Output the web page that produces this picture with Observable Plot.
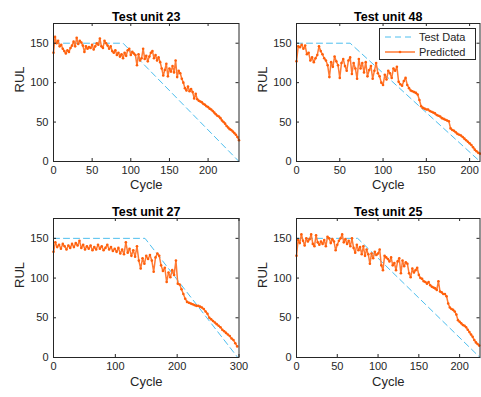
<!DOCTYPE html>
<html><head><meta charset="utf-8">
<script src="https://cdn.jsdelivr.net/npm/d3@7"></script>
<script src="https://cdn.jsdelivr.net/npm/@observablehq/plot@0.6"></script>
<style>
body{margin:0;background:#fff;}
#chart{position:relative;width:481px;height:397px;font-family:"Liberation Sans",Arial,Helvetica,sans-serif;background:#fff;overflow:hidden;}
.panel{position:absolute;}
#legend{position:absolute;left:379px;top:28px;width:95px;height:30px;border:1px solid #262626;background:#fff;font-size:11px;color:#262626;}
#legend .row{position:absolute;left:0;height:14px;width:95px;}
#legend svg{position:absolute;left:4px;top:0;}
#legend span{position:absolute;left:39px;top:0;line-height:14px;white-space:nowrap;}
</style></head>
<body><div id="chart"><div id="legend"></div></div>
<script>
// ---- Data ----
const yTicks = [0, 50, 100, 150];
const legendLabels = ["Test Data", "Predicted"];

// Unit 23
const unit23Title = "Test unit 23";
const unit23Len = 240;
const unit23XTicks = [0, 50, 100, 150, 200];
const unit23Cycles = [0,2,4,6,8,10,12,14,16,18,20,22,24,26,28,30,32,34,36,38,40,42,44,46,48,50,52,54,56,58,60,62,64,66,68,70,72,74,76,78,80,82,84,86,88,90,92,94,96,98,100,102,104,106,108,110,112,114,116,118,120,122,124,126,128,130,132,134,136,138,140,142,144,146,148,150,152,154,156,158,160,162,164,166,168,170,172,174,176,178,180,182,184,186,188,190,192,194,196,198,200,202,204,206,208,210,212,214,216,218,220,222,224,226,228,230,232,234,236,238,240];
const unit23Pred = [138,158,150,153,146,148,143,140,137,141,139,144,147,152,146,157,149,153,151,147,139,146,143,145,144,148,142,146,150,148,156,146,144,153,150,147,143,146,140,138,141,135,138,133,136,131,138,134,141,143,135,139,137,135,122,136,128,131,143,130,134,127,133,138,140,131,135,128,132,126,118,109,116,124,108,118,114,121,113,128,107,115,112,105,100,93,90,95,89,92,88,80,86,79,77,76,75,73,72,70,69,67,66,64,62,60,58,57,55,52,50,48,45,43,41,40,38,36,34,31,27];

// Unit 48
const unit48Title = "Test unit 48";
const unit48Len = 212;
const unit48XTicks = [0, 50, 100, 150, 200];
const unit48Cycles = [0,2,4,6,8,10,12,14,16,18,20,22,24,26,28,30,32,34,36,38,40,42,44,46,48,50,52,54,56,58,60,62,64,66,68,70,72,74,76,78,80,82,84,86,88,90,92,94,96,98,100,102,104,106,108,110,112,114,116,118,120,122,124,126,128,130,132,134,136,138,140,142,144,146,148,150,152,154,156,158,160,162,164,166,168,170,172,174,176,178,180,182,184,186,188,190,192,194,196,198,200,202,204,206,208,210,212];
const unit48Pred = [127,146,145,148,143,147,136,138,128,132,126,131,135,146,140,136,131,128,122,107,126,120,133,127,122,106,125,130,121,115,128,132,111,125,118,105,130,118,125,113,126,108,116,121,105,115,125,112,108,100,97,110,104,115,112,106,118,115,120,101,98,96,102,106,97,93,90,89,88,87,85,78,70,68,67,66,66,64,63,62,61,59,58,57,55,54,53,52,51,42,40,39,37,35,34,33,31,29,27,25,23,21,18,15,13,11,10];

// Unit 27
const unit27Title = "Test unit 27";
const unit27Len = 298;
const unit27XMax = 300;
const unit27XTicks = [0, 100, 200, 300];
const unit27Cycles = [0,3,6,9,12,15,18,21,24,27,30,33,36,39,42,45,48,51,54,57,60,63,66,69,72,75,78,81,84,87,90,93,96,99,102,105,108,111,114,117,120,123,126,129,132,135,138,141,144,147,150,153,156,159,162,165,168,171,174,177,180,183,186,189,192,195,198,201,204,207,210,213,216,219,222,225,228,231,234,237,240,243,246,249,252,255,258,261,264,267,270,273,276,279,282,285,288,291,294,297];
const unit27Pred = [133,145,139,142,137,143,140,136,141,138,143,139,144,141,147,138,142,136,140,137,141,135,139,136,142,137,140,135,138,142,136,139,134,137,133,138,131,136,130,145,132,137,128,135,127,140,122,112,125,118,128,124,129,122,108,126,131,128,116,109,113,95,107,101,110,104,122,93,92,86,80,74,70,69,68,67,66,65,65,64,63,61,58,55,50,48,46,44,42,40,38,35,33,31,29,27,24,22,18,14];

// Unit 25
const unit25Title = "Test unit 25";
const unit25Len = 225;
const unit25XTicks = [0, 50, 100, 150, 200];
const unit25Cycles = [0,2,4,6,8,10,12,14,16,18,20,22,24,26,28,30,32,34,36,38,40,42,44,46,48,50,52,54,56,58,60,62,64,66,68,70,72,74,76,78,80,82,84,86,88,90,92,94,96,98,100,102,104,106,108,110,112,114,116,118,120,122,124,126,128,130,132,134,136,138,140,142,144,146,148,150,152,154,156,158,160,162,164,166,168,170,172,174,176,178,180,182,184,186,188,190,192,194,196,198,200,202,204,206,208,210,212,214,216,218,220,222,224];
const unit25Pred = [128,148,144,155,147,141,150,146,149,155,143,140,154,145,142,146,143,148,140,152,150,144,149,146,135,142,147,150,155,145,149,143,147,140,150,138,132,142,135,139,130,140,128,136,130,118,131,125,133,129,131,136,116,110,128,126,124,121,126,116,119,110,121,125,106,122,115,120,118,106,101,112,107,110,113,104,100,99,96,95,93,95,91,89,88,87,85,96,83,82,80,80,77,68,63,61,60,58,54,47,45,43,41,40,38,35,32,29,26,22,19,17,15];

// ---- Styles ----
const testColor = "#4DBEEE";
const predLine = "#FF7A33";
const predDot = "#FF5F0A";
const axisColor = "#262626";
const font = '"Liberation Sans", Arial, Helvetica, sans-serif';

function panel(o) {
  const yMax = 175;
  const test = [{c: 0, r: 150}, {c: o.len - 150, r: 150}, {c: o.len, r: 0}];
  const pts = o.cycles.map((c, i) => ({c, r: o.pred[i]}));
  const innerW = o.width - o.ml - o.mr, innerH = o.height - o.mt - o.mb;
  const tl = 3; // tick length px
  const xt = tl * o.xMax / innerW, yt = tl * yMax / innerH;
  const svg = Plot.plot({
    width: o.width, height: o.height,
    marginLeft: o.ml, marginRight: o.mr, marginTop: o.mt, marginBottom: o.mb,
    style: {background: "transparent", fontFamily: font, fontSize: "11px", color: axisColor, overflow: "visible"},
    x: {domain: [0, o.xMax]},
    y: {domain: [0, yMax]},
    marks: [
      Plot.line(test, {x: "c", y: "r", stroke: testColor, strokeWidth: 1, strokeDasharray: "6,4"}),
      Plot.line(pts, {x: "c", y: "r", stroke: predLine, strokeWidth: 1.5}),
      Plot.dot(pts, {x: "c", y: "r", r: 1.3, fill: predDot, stroke: null}),
      Plot.frame({stroke: axisColor, strokeWidth: 1}),
      Plot.ruleX(o.xTicks, {y1: 0, y2: yt, stroke: axisColor}),
      Plot.ruleX(o.xTicks, {y1: yMax - yt, y2: yMax, stroke: axisColor}),
      Plot.ruleY(yTicks, {x1: 0, x2: xt, stroke: axisColor}),
      Plot.ruleY(yTicks, {x1: o.xMax - xt, x2: o.xMax, stroke: axisColor}),
      Plot.axisX({ticks: o.xTicks, tickSize: 0, tickPadding: 5, label: null, fontSize: 11, fill: axisColor}),
      Plot.axisY({ticks: yTicks, tickSize: 0, tickPadding: 5, label: null, fontSize: 11, fill: axisColor}),
      Plot.text([o.title], {frameAnchor: "top", dy: -11, fontWeight: "bold", fontSize: 12.5, fill: "#000"}),
      Plot.text(["Cycle"], {frameAnchor: "bottom", dy: o.xlabDy, fontSize: 13, fill: axisColor}),
      Plot.text(["RUL"], {frameAnchor: "left", dx: -34, rotate: -90, fontSize: 13, fill: axisColor})
    ]
  });
  const wrap = document.createElement("div");
  wrap.className = "panel";
  wrap.style.left = o.left + "px";
  wrap.style.top = o.top + "px";
  wrap.appendChild(svg);
  document.getElementById("chart").insertBefore(wrap, document.getElementById("legend"));
}

panel({title: unit23Title, len: unit23Len, xMax: unit23Len, xTicks: unit23XTicks, cycles: unit23Cycles, pred: unit23Pred,
  left: 0, top: 0, width: 241, height: 197, ml: 53, mr: 2.5, mt: 23, mb: 36, xlabDy: 27});
panel({title: unit48Title, len: unit48Len, xMax: unit48Len, xTicks: unit48XTicks, cycles: unit48Cycles, pred: unit48Pred,
  left: 241, top: 0, width: 240, height: 197, ml: 55, mr: 1.5, mt: 23, mb: 36, xlabDy: 27});
panel({title: unit27Title, len: unit27Len, xMax: unit27XMax, xTicks: unit27XTicks, cycles: unit27Cycles, pred: unit27Pred,
  left: 0, top: 197, width: 241, height: 200, ml: 53, mr: 2.5, mt: 21, mb: 40, xlabDy: 28});
panel({title: unit25Title, len: unit25Len, xMax: unit25Len, xTicks: unit25XTicks, cycles: unit25Cycles, pred: unit25Pred,
  left: 241, top: 197, width: 240, height: 200, ml: 55, mr: 1.5, mt: 21, mb: 40, xlabDy: 28});

// Legend
const lg = document.getElementById("legend");
lg.innerHTML =
  '<div class="row" style="top:1px"><svg width="32" height="14"><line x1="1" y1="7" x2="31" y2="7" stroke="' + testColor + '" stroke-width="1" stroke-dasharray="6,4"/></svg><span>' + legendLabels[0] + '</span></div>' +
  '<div class="row" style="top:16px"><svg width="32" height="14"><line x1="1" y1="7" x2="31" y2="7" stroke="' + predLine + '" stroke-width="1.5"/><circle cx="16" cy="7" r="1.3" fill="' + predDot + '"/></svg><span>' + legendLabels[1] + '</span></div>';
</script>
</body></html>
